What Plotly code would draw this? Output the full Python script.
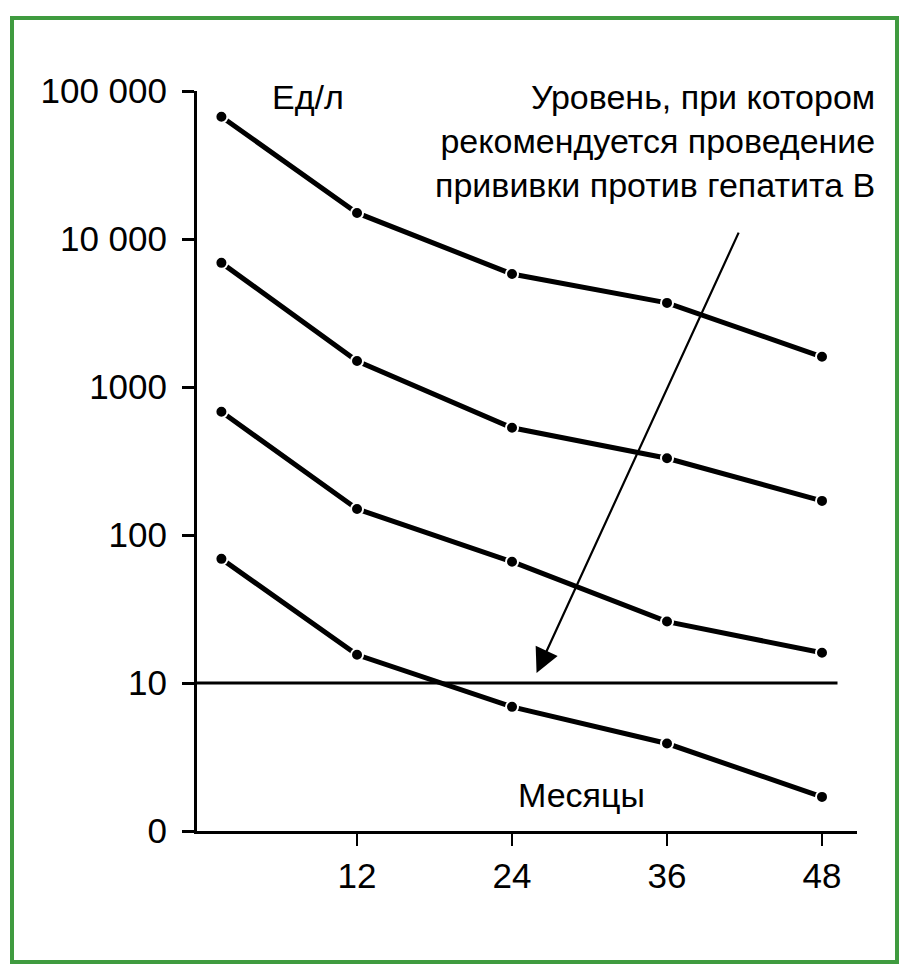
import numpy as np
import plotly.graph_objects as go

# Antibody level (U/L) after hepatitis B vaccination, four cohorts
months = [1.5, 12, 24, 36, 48]
series_1 = [67000, 15000, 5800, 3700, 1600]
series_2 = [6900, 1500, 530, 330, 170]
series_3 = [680, 150, 66, 26, 16]
series_4 = [69, 15.5, 6.9, 3.9, 1.7]
threshold = 10
threshold_span = [-0.39, 49.2]

x_ticks = [12, 24, 36, 48]
y_tickvals = [1, 10, 100, 1000, 10000, 100000]
y_ticktext = ["0", "10", "100", "1000", "10 000", "100 000"]

W, H = 902, 966
L, R, T, B = 197, 857, 91, 831          # plot box in pixels
PW, PH = R - L, B - T
X_RANGE = [-0.39, 50.71]
FONT = "Liberation Sans Narrow, Arial Narrow, Liberation Sans, sans-serif"


def px(xp):
    return (xp - L) / PW


def py(yp):
    return (B - yp) / PH


fig = go.Figure()

for s in (series_1, series_2, series_3, series_4):
    fig.add_trace(go.Scatter(
        x=months, y=s, mode="lines+markers",
        line=dict(color="black", width=5),
        marker=dict(size=12, color="black", line=dict(color="white", width=2)),
        cliponaxis=False, showlegend=False, hoverinfo="skip"))

fig.add_trace(go.Scatter(
    x=threshold_span, y=[threshold, threshold], mode="lines",
    line=dict(color="black", width=3),
    cliponaxis=False, showlegend=False, hoverinfo="skip"))

fig.update_layout(
    width=W, height=H,
    margin=dict(l=L, r=W - R, t=T, b=H - B, pad=0),
    paper_bgcolor="white", plot_bgcolor="white",
    font=dict(family=FONT, color="black"),
    xaxis=dict(range=X_RANGE, showline=True, linecolor="black", linewidth=3,
               ticks="outside", ticklen=12, tickwidth=2, tickcolor="black",
               tickvals=x_ticks, ticktext=[str(v) for v in x_ticks],
               tickfont=dict(size=35, family=FONT), ticklabelstandoff=0,
               showgrid=False, zeroline=False, fixedrange=True),
    yaxis=dict(type="log", range=[0, 5], showline=True, linecolor="black",
               linewidth=3, ticks="outside", ticklen=12, tickwidth=3,
               tickcolor="black", tickvals=y_tickvals, ticktext=y_ticktext,
               tickfont=dict(size=35, family=FONT), ticklabelstandoff=8,
               showgrid=False, zeroline=False, fixedrange=True),
)

# Arrow pointing at the recommended revaccination level
fig.add_annotation(
    x=25.9, y=np.log10(11.7), ax=41.6, ay=np.log10(11300),
    xref="x", yref="y", axref="x", ayref="y", text="",
    showarrow=True, arrowhead=2, arrowsize=2.2, arrowwidth=2.2,
    arrowcolor="black", standoff=0, startstandoff=0)

fig.add_annotation(
    x=px(877), y=py(76), xref="paper", yref="paper",
    xanchor="right", yanchor="top", align="right", showarrow=False,
    text="Уровень, при котором<br>рекомендуется проведение<br>прививки против гепатита В",
    font=dict(size=34, family=FONT))

fig.add_annotation(
    x=px(308), y=py(97), xref="paper", yref="paper",
    xanchor="center", yanchor="middle", showarrow=False,
    text="Ед/л", font=dict(size=34, family=FONT))

fig.add_annotation(
    x=px(581), y=py(795), xref="paper", yref="paper",
    xanchor="center", yanchor="middle", showarrow=False,
    text="Месяцы", font=dict(size=34, family=FONT))

# Green frame around the figure
fig.add_shape(type="rect", xref="paper", yref="paper",
              x0=px(12), x1=px(897), y0=py(962), y1=py(18),
              line=dict(color="#3f9b3f", width=4), fillcolor="rgba(0,0,0,0)",
              layer="above")

fig.write_html("out.html", include_plotlyjs=True, config={"displayModeBar": False})
